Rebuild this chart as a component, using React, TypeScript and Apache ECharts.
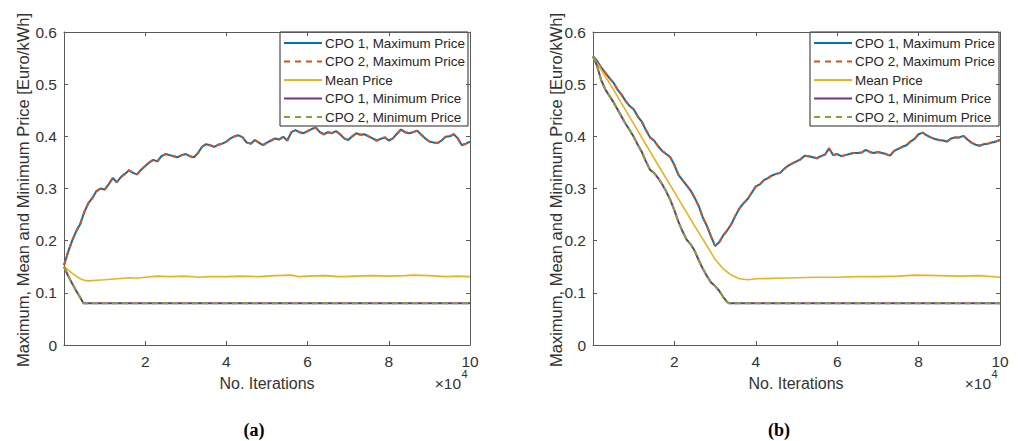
import React, { useEffect, useRef } from 'react';
import * as echarts from 'echarts';

// x sampling of the max-price series (in units of 10^4 iterations)
const X_STEP = 0.1;
const X_TICKS = [0, 2, 4, 6, 8, 10];
const Y_TICKS = ['0', '0.1', '0.2', '0.3', '0.4', '0.5', '0.6'];

const SERIES_NAMES = [
  'CPO 1, Maximum Price',
  'CPO 2, Maximum Price',
  'Mean Price',
  'CPO 1, Minimum Price',
  'CPO 2, Minimum Price',
];

// ---- panel (a) ----
const cpo1MaxA = [
  0.153, 0.178, 0.200, 0.218, 0.232, 0.255, 0.272, 0.282, 0.295, 0.300,
  0.298, 0.308, 0.320, 0.312, 0.322, 0.328, 0.335, 0.330, 0.327, 0.336,
  0.343, 0.350, 0.355, 0.352, 0.362, 0.366, 0.364, 0.362, 0.360, 0.364,
  0.366, 0.362, 0.360, 0.368, 0.380, 0.385, 0.383, 0.380, 0.384, 0.386,
  0.390, 0.396, 0.400, 0.402, 0.398, 0.388, 0.386, 0.393, 0.388, 0.383,
  0.388, 0.392, 0.396, 0.394, 0.399, 0.392, 0.408, 0.412, 0.408, 0.406,
  0.410, 0.414, 0.417, 0.408, 0.404, 0.408, 0.406, 0.410, 0.404, 0.396,
  0.393, 0.400, 0.406, 0.403, 0.404, 0.400, 0.396, 0.392, 0.395, 0.398,
  0.392, 0.396, 0.405, 0.413, 0.408, 0.406, 0.408, 0.411, 0.403, 0.396,
  0.390, 0.388, 0.387, 0.392, 0.399, 0.400, 0.404, 0.396, 0.383, 0.386,
  0.390,
];
const cpo2MaxA = cpo1MaxA;
const meanA: [number, number][] = [
  [0, 0.150], [0.1, 0.144], [0.2, 0.138], [0.3, 0.132], [0.4, 0.127], [0.5, 0.124],
  [0.6, 0.123], [0.8, 0.124], [1.0, 0.125], [1.3, 0.127], [1.6, 0.129], [1.8, 0.128],
  [2.0, 0.130], [2.3, 0.132], [2.6, 0.131], [3.0, 0.132], [3.3, 0.130], [3.6, 0.131],
  [4.0, 0.131], [4.4, 0.132], [4.8, 0.131], [5.2, 0.133], [5.6, 0.134], [5.8, 0.131],
  [6.0, 0.132], [6.4, 0.133], [6.8, 0.131], [7.2, 0.132], [7.6, 0.133], [8.0, 0.132],
  [8.4, 0.133], [8.6, 0.134], [9.0, 0.133], [9.4, 0.131], [9.7, 0.132], [10, 0.131],
];
const cpo1MinA: [number, number][] = [
  [0, 0.150], [0.1, 0.133], [0.2, 0.118], [0.3, 0.104], [0.4, 0.091], [0.48, 0.080], [10, 0.080],
];
const cpo2MinA = cpo1MinA;

// ---- panel (b) ----
const cpo1MaxB = [
  0.553, 0.545, 0.532, 0.522, 0.512, 0.503, 0.490, 0.480, 0.468, 0.458,
  0.452, 0.438, 0.428, 0.412, 0.398, 0.392, 0.381, 0.372, 0.366, 0.360,
  0.345, 0.326, 0.316, 0.306, 0.296, 0.282, 0.266, 0.244, 0.228, 0.208,
  0.190, 0.197, 0.210, 0.220, 0.232, 0.248, 0.262, 0.272, 0.280, 0.292,
  0.304, 0.308, 0.316, 0.320, 0.325, 0.328, 0.330, 0.338, 0.344, 0.348,
  0.352, 0.356, 0.363, 0.362, 0.360, 0.358, 0.362, 0.365, 0.377, 0.364,
  0.366, 0.362, 0.364, 0.366, 0.368, 0.368, 0.369, 0.374, 0.370, 0.368,
  0.370, 0.368, 0.366, 0.363, 0.372, 0.376, 0.380, 0.383, 0.390, 0.395,
  0.404, 0.407, 0.402, 0.398, 0.395, 0.393, 0.392, 0.390, 0.396, 0.398,
  0.398, 0.401, 0.394, 0.388, 0.384, 0.382, 0.385, 0.386, 0.388, 0.390,
  0.393,
];
const cpo2MaxB = cpo1MaxB;
const meanB: [number, number][] = [
  [0, 0.553], [0.5, 0.490], [1.0, 0.424], [1.5, 0.358], [2.0, 0.293], [2.5, 0.228],
  [2.8, 0.190], [3.0, 0.164], [3.2, 0.146], [3.4, 0.134], [3.6, 0.127], [3.8, 0.125],
  [4.0, 0.127], [4.5, 0.128], [5.0, 0.129], [5.5, 0.130], [6.0, 0.130], [6.5, 0.131],
  [7.0, 0.131], [7.5, 0.132], [7.9, 0.134], [8.5, 0.133], [9.0, 0.132], [9.5, 0.133],
  [10, 0.130],
];
const cpo1MinB: [number, number][] = [
  [0, 0.553], [0.1, 0.535], [0.2, 0.508], [0.3, 0.490], [0.4, 0.478], [0.5, 0.466],
  [0.6, 0.452], [0.7, 0.438], [0.8, 0.424], [0.9, 0.412], [1.0, 0.399], [1.1, 0.384],
  [1.2, 0.370], [1.3, 0.352], [1.4, 0.336], [1.5, 0.330], [1.6, 0.320], [1.7, 0.308],
  [1.8, 0.294], [1.9, 0.278], [2.0, 0.258], [2.1, 0.236], [2.2, 0.218], [2.3, 0.202],
  [2.4, 0.193], [2.5, 0.180], [2.6, 0.162], [2.7, 0.146], [2.8, 0.132], [2.9, 0.120],
  [3.0, 0.113], [3.1, 0.104], [3.2, 0.092], [3.3, 0.082], [3.35, 0.080], [10, 0.080],
];
const cpo2MinB = cpo1MinB;

const COLORS = ['#0072BD', '#D95319', '#EDB120', '#7E2F8E', '#77AC30'];
const DASHED = [false, true, false, false, true];
const FONT = 'Liberation Sans, Arial, Helvetica, sans-serif';
const AXIS_COLOR = '#5a5a5a';
const TEXT_COLOR = '#333333';

const GRIDS = [
  { left: 64, top: 32, width: 406, height: 313 },
  { left: 593, top: 32, width: 407, height: 313 },
];

function indexed(values: number[]): [number, number][] {
  return values.map((v, i) => [+(i * X_STEP).toFixed(2), v]);
}

function panelSeries(g: number, maxs1: number[], maxs2: number[], mean: [number, number][], min1: [number, number][], min2: [number, number][]) {
  const base = { type: 'line', xAxisIndex: g, yAxisIndex: g, symbol: 'none', showSymbol: false, silent: true };
  return [
    { ...base, name: SERIES_NAMES[0], data: indexed(maxs1), z: 3, lineStyle: { color: COLORS[0], width: 2 } },
    { ...base, name: SERIES_NAMES[1], data: indexed(maxs2), z: 4, lineStyle: { color: COLORS[1], width: 2, type: [5, 4] } },
    { ...base, name: SERIES_NAMES[2], data: mean, z: 5, lineStyle: { color: COLORS[2], width: 1.6 } },
    { ...base, name: SERIES_NAMES[3], data: min1, z: 6, lineStyle: { color: COLORS[3], width: 2 } },
    { ...base, name: SERIES_NAMES[4], data: min2, z: 7, lineStyle: { color: COLORS[4], width: 2, type: [6, 4] } },
  ];
}

function xAxis(g: number, top: boolean) {
  return {
    type: 'value', gridIndex: g, position: top ? 'top' : 'bottom',
    min: X_TICKS[0], max: X_TICKS[X_TICKS.length - 1], interval: X_TICKS[1] - X_TICKS[0],
    axisLine: { show: true, onZero: false, lineStyle: { color: AXIS_COLOR, width: 1 } },
    axisTick: { show: true, inside: true, length: 4, lineStyle: { color: AXIS_COLOR } },
    splitLine: { show: false },
    axisLabel: {
      show: !top, margin: 8, fontSize: 15.5, fontFamily: FONT, color: TEXT_COLOR,
      formatter: (v: number) => (v === 0 ? '' : String(v)),
    },
  };
}

function yAxis(g: number, right: boolean) {
  return {
    type: 'value', gridIndex: g, position: right ? 'right' : 'left',
    min: 0, max: 0.6, interval: 0.1,
    axisLine: { show: true, onZero: false, lineStyle: { color: AXIS_COLOR, width: 1 } },
    axisTick: { show: true, inside: true, length: 4, lineStyle: { color: AXIS_COLOR } },
    splitLine: { show: false },
    axisLabel: {
      show: !right, margin: 7, fontSize: 15.5, fontFamily: FONT, color: TEXT_COLOR,
      formatter: (v: number) => Y_TICKS[Math.round(v * 10)] ?? '',
    },
  };
}

function legendGraphic(x0: number, w: number) {
  const top = 32;
  const children: any[] = [
    { type: 'rect', shape: { x: x0, y: top, width: w, height: 94 }, style: { fill: '#fff', stroke: '#262626', lineWidth: 1 } },
  ];
  SERIES_NAMES.forEach((name, i) => {
    const y = top + 11 + i * 18.5;
    children.push({
      type: 'line', shape: { x1: x0 + 4, y1: y, x2: x0 + 42, y2: y },
      style: { stroke: COLORS[i], lineWidth: 2, lineDash: DASHED[i] ? [6, 5] : null },
    });
    children.push({
      type: 'text', x: x0 + 45, y,
      style: { text: name, fontSize: 13.4, fontFamily: FONT, fill: '#262626', align: 'left', verticalAlign: 'middle', textAlign: 'left', textVerticalAlign: 'middle' },
    });
  });
  return { type: 'group', z: 100, children };
}

function texts() {
  const yTitle = 'Maximum, Mean and Minimum Price [Euro/kWh]';
  const els: any[] = [];
  [[23, 267, 254], [556, 796, 779]].forEach(([yx, xc, cap], i) => {
    const gr = GRIDS[i];
    const right = gr.left + gr.width;
    els.push({
      type: 'text', x: yx, y: 190, rotation: Math.PI / 2,
      style: { text: yTitle, fontSize: 16.5, fontFamily: FONT, fill: TEXT_COLOR, align: 'center', verticalAlign: 'middle', textAlign: 'center', textVerticalAlign: 'middle' },
    });
    els.push({
      type: 'text', x: xc, y: 383,
      style: { text: 'No. Iterations', fontSize: 16, fontFamily: FONT, fill: TEXT_COLOR, align: 'center', verticalAlign: 'middle', textAlign: 'center', textVerticalAlign: 'middle' },
    });
    els.push({
      type: 'text', x: right - 9, y: 383,
      style: { text: '×10', fontSize: 15.5, fontFamily: FONT, fill: TEXT_COLOR, align: 'right', verticalAlign: 'middle', textAlign: 'right', textVerticalAlign: 'middle' },
    });
    els.push({
      type: 'text', x: right - 8.5, y: 374,
      style: { text: '4', fontSize: 11, fontFamily: FONT, fill: TEXT_COLOR, align: 'left', verticalAlign: 'middle', textAlign: 'left', textVerticalAlign: 'middle' },
    });
    els.push({
      type: 'text', x: cap, y: 430,
      style: { text: i === 0 ? '(a)' : '(b)', fontSize: 18, fontWeight: 'bold', fontFamily: 'Liberation Serif, DejaVu Serif, serif', fill: '#000', align: 'center', verticalAlign: 'middle', textAlign: 'center', textVerticalAlign: 'middle' },
    });
  });
  els.push(legendGraphic(280, 188));
  els.push(legendGraphic(810, 189));
  return els;
}

export default function App() {
  const ref = useRef<HTMLDivElement>(null);
  useEffect(() => {
    if (!ref.current) return;
    const chart = echarts.init(ref.current, undefined, { renderer: 'svg' });
    chart.setOption({
      animation: false,
      backgroundColor: '#ffffff',
      grid: GRIDS.map((g) => ({ ...g, containLabel: false })),
      xAxis: [xAxis(0, false), xAxis(1, false), xAxis(0, true), xAxis(1, true)],
      yAxis: [yAxis(0, false), yAxis(1, false), yAxis(0, true), yAxis(1, true)],
      series: [
        ...panelSeries(0, cpo1MaxA, cpo2MaxA, meanA, cpo1MinA, cpo2MinA),
        ...panelSeries(1, cpo1MaxB, cpo2MaxB, meanB, cpo1MinB, cpo2MinB),
      ],
      graphic: texts(),
    });
    return () => chart.dispose();
  }, []);
  return (
    <div
      ref={ref}
      style={{ position: 'fixed', left: 0, top: 0, width: 1018, height: 441, background: '#fff' }}
    />
  );
}
